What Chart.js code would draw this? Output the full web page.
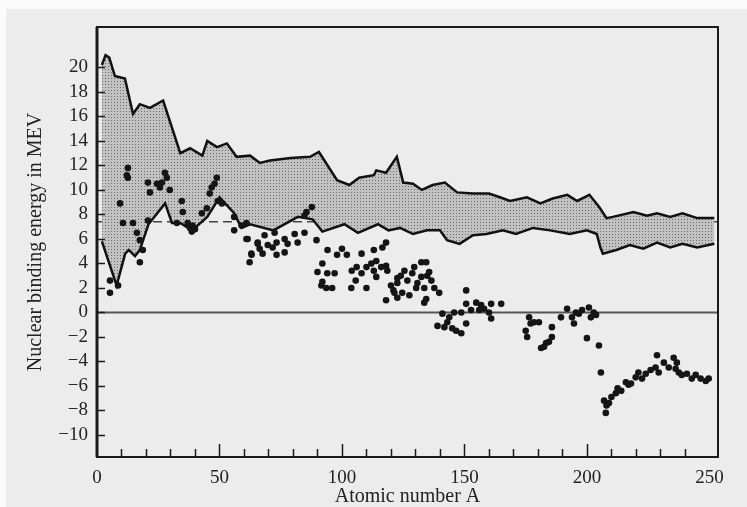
<!DOCTYPE html>
<html>
<head>
<meta charset="utf-8">
<script src="https://cdn.jsdelivr.net/npm/chart.js@4"></script>
<style>
  body { margin: 0; background: #ececec; }
  canvas { display: block; }
</style>
</head>
<body>
<canvas id="chart" width="747" height="507"></canvas>
<script>
// upper edge of the shaded band
var upperA = [2, 3.5, 5, 7.3, 11.4, 14.7, 17.5, 21.6, 27, 34, 38, 43, 45, 49, 53, 57, 62.5, 66.5, 70.6, 79, 87, 90.6, 98, 103, 107, 113, 114, 118, 122.4, 125, 129, 132.6, 137, 142, 147, 153.5, 160, 164.5, 168.6, 175.5, 181, 186, 192, 196, 201, 205, 208, 210.6, 219, 224.5, 228.6, 234, 239, 245, 252];
var upperE = [20.2, 21, 20.8, 19.3, 19.1, 16.2, 17, 16.7, 17.3, 13, 13.4, 12.8, 14, 13.5, 13.8, 12.7, 12.8, 12.2, 12.4, 12.6, 12.7, 13.1, 10.8, 10.4, 11, 11.2, 11.6, 11.4, 12.7, 10.6, 10.5, 10, 10.4, 10.6, 9.8, 9.7, 9.7, 9.4, 9.1, 9.4, 8.9, 9.3, 9.6, 9.1, 9.6, 8.6, 7.7, 7.8, 8.2, 7.9, 8.1, 7.8, 8.1, 7.7, 7.7];

// lower edge of the shaded band
var lowerA = [2, 5, 8, 11.5, 13, 15.5, 17.5, 19, 21, 27.8, 30.6, 34, 38.8, 45, 50, 56, 59, 62.5, 72, 82, 88, 92, 101, 106.5, 114.7, 119, 123.7, 129, 134.7, 140, 142.9, 148, 153.5, 159, 165.7, 171, 178, 185, 193, 200, 204, 205.5, 206.5, 212, 217.5, 223, 228.6, 234, 239, 245, 252];
var lowerE = [5.8, 4, 2.2, 4.8, 5.1, 4.6, 5.1, 6, 7.2, 8.9, 7.3, 7.3, 6.7, 7.8, 9.4, 8.1, 6.9, 7.2, 6.7, 7.8, 7.6, 6.6, 7.2, 6.5, 7.2, 6.7, 6.9, 6.4, 6.7, 6.7, 5.9, 5.6, 6.3, 6.4, 6.7, 6.4, 6.9, 6.7, 6.4, 6.7, 6.4, 5.3, 4.8, 5.1, 5.5, 5.2, 5.7, 5.3, 5.6, 5.3, 5.6];

// measured binding energies (dots)
var dotA = [12.6, 12.6, 12.2, 9.4, 10.6, 14.7, 16.3, 17.5, 18.7, 17.5, 5.3, 5.3, 8.6,
  20.8, 21.6, 24.5, 25.7, 27.7, 28.5, 29.7, 26.5, 20.8, 34.6, 35, 37, 38, 39, 40, 38.7, 32.6, 42.8, 44.8, 46, 46.8, 48.9, 48, 49.3, 51, 56, 59, 56, 61, 61, 65.6, 66.4, 63, 62.3,
  87.7, 85.5, 84.7, 61.5, 68.4, 72.5, 65.6, 69.7, 73.3, 71.7, 76.6, 77.8, 80.7, 81.9, 84.7, 63.1, 67.6, 73.3, 76.6, 89.6, 94.1, 98, 100, 102, 108, 113, 116.5, 118,
  92, 90, 94, 97, 92, 93.6, 96, 91.6, 104, 106, 105.6, 103.8, 110, 108, 110, 112, 114, 113, 116, 118, 118.5, 114, 122.6, 124, 120, 121, 118, 122.6,
  122.6, 125.5, 126.7, 128.7, 129.5, 130.8, 132.4, 134.4, 132.4, 134.8, 135.6, 136.5, 133.6, 124.6, 127.5, 130.3, 134.4, 133.6, 137.7, 139.7, 121.4,
  150.7, 150.7, 154.8, 156.8, 160.9, 165, 152.7, 156, 158, 160, 148.7, 145.8, 141, 143.8, 143, 139, 141.8, 160.9, 150.7, 145, 146.6, 148.7,
  176.4, 178.4, 180.4, 175, 175.6, 177, 185.7, 189.4, 191.9, 193.9, 194.7, 195.5, 196.7, 198, 200.8, 202.8, 201.6, 203.7, 185.7, 184.5, 181.3, 182.5, 183.3, 200, 204.9, 205.7,
  207, 207.7, 208, 209, 210, 211.8, 212.5, 214, 215.9, 217, 218, 219.9, 221, 222.5, 224, 226, 228, 228.6, 229.3, 231.4, 233.4, 235.4, 236.7, 236.2, 237.5, 238.7, 240.8, 242.8, 244.4, 246.4, 248.5, 249.7];
var dotE = [11.8, 11.0, 11.2, 8.9, 7.3, 7.3, 6.5, 5.9, 5.1, 4.1, 2.6, 1.6, 2.2,
  10.6, 9.8, 10.5, 10.2, 11.4, 11, 10, 10.6, 7.5, 9.1, 8.2, 7.3, 6.9, 7.1, 6.8, 6.6, 7.3, 8.1, 8.5, 9.7, 10.2, 11, 10.5, 9.1, 8.9, 7.8, 7.1, 6.7, 7.3, 6.0, 5.7, 5.2, 4.8, 4.1,
  8.6, 8.2, 7.9, 6, 6.3, 6.5, 5.6, 5.5, 5.7, 5.3, 6, 5.6, 6.4, 5.7, 6.5, 4.7, 4.8, 4.7, 4.9, 5.9, 5.1, 4.7, 5.2, 4.7, 4.8, 5.1, 5.3, 5.7,
  4, 3.3, 3.2, 3.2, 2.5, 2.0, 2.0, 2.2, 3.4, 3.7, 2.6, 2.0, 2.0, 3.2, 3.7, 4.0, 4.2, 3.4, 3.7, 3.8, 3.4, 2.9, 2.8, 3.0, 2.2, 1.8, 1.0, 1.2,
  2.4, 3.4, 2.6, 3.2, 3.7, 2.4, 4.1, 4.1, 2.9, 3.0, 3.3, 2.6, 2.0, 1.6, 1.4, 2.0, 1.1, 0.8, 2.0, 1.6, 1.6,
  1.8, 0.7, 0.8, 0.6, 0.7, 0.7, 0.2, 0.2, 0.3, 0.0, 0.0, 0.0, -0.1, -0.4, -0.8, -1.1, -1.2, -0.5, -0.9, -1.3, -1.5, -1.7,
  -0.4, -0.8, -0.8, -1.5, -2.0, -0.9, -1.2, -0.4, 0.3, -0.4, -0.9, 0, -0.1, 0.2, 0.4, 0, -0.4, -0.2, -2.0, -2.4, -2.9, -2.8, -2.5, -2.1, -2.7, -4.9,
  -7.2, -8.2, -7.6, -7.4, -6.9, -6.6, -6.2, -6.4, -5.7, -5.9, -5.8, -5.3, -4.9, -5.4, -5.0, -4.7, -4.5, -3.5, -4.9, -4.1, -4.5, -3.7, -4.1, -4.6, -4.9, -5.1, -5.0, -5.4, -5.1, -5.4, -5.6, -5.4];

var dashLevel = 7.4;
var xTicks = [10, 20, 30, 40, 50, 60, 70, 80, 90, 100, 110, 120, 130, 140, 150, 160, 170, 180, 190, 200, 210, 220, 230, 240];
var xLabels = [0, 50, 100, 150, 200, 250];
var yTicks = [-10, -8, -6, -4, -2, 0, 2, 4, 6, 8, 10, 12, 14, 16, 18, 20];
var xMax = 253.5;

function pairs(xs, ys) {
    return xs.map(function (v, i) { return { x: v, y: ys[i] }; });
}

// stippled band fill
var pat = document.createElement('canvas');
pat.width = 3; pat.height = 3;
var pc = pat.getContext('2d');
pc.fillStyle = '#c2c2c2';
pc.fillRect(0, 0, 3, 3);
pc.fillStyle = '#6a6a6a';
pc.fillRect(0, 0, 1, 1);
var ctx0 = document.getElementById('chart').getContext('2d');
var bandFill = ctx0.createPattern(pat, 'repeat');

var paper = {
    id: 'paper',
    beforeDraw: function (chart) {
        var c = chart.ctx;
        c.save();
        c.fillStyle = '#ececec';
        c.fillRect(0, 0, chart.width, chart.height);
        c.fillStyle = '#fbfbfb';
        c.fillRect(0, 0, chart.width, 9);
        c.fillRect(0, 0, 6, chart.height);
        c.restore();
    }
};

var insideTicks = {
    id: 'insideTicks',
    afterDatasetsDraw: function (chart) {
        var c = chart.ctx, a = chart.chartArea;
        var sx = chart.scales.x, sy = chart.scales.y;
        c.save();
        c.strokeStyle = '#1a1a1a';
        c.lineWidth = 1.5;
        c.beginPath();
        yTicks.forEach(function (v) {
            var py = Math.round(sy.getPixelForValue(v)) + 0.5;
            c.moveTo(a.left, py);
            c.lineTo(a.left + 8, py);
        });
        xTicks.forEach(function (v) {
            var px = Math.round(sx.getPixelForValue(v)) + 0.5;
            c.moveTo(px, a.bottom);
            c.lineTo(px, a.bottom - (v % 50 === 0 ? 13 : 8));
        });
        c.stroke();
        c.lineWidth = 2;
        c.strokeRect(a.left, a.top, a.right - a.left, a.bottom - a.top);
        c.lineWidth = 3;
        c.beginPath();
        c.moveTo(a.left, a.top);
        c.lineTo(a.left, a.bottom);
        c.stroke();
        c.restore();
    }
};

new Chart(ctx0, {
    type: 'scatter',
    data: {
        datasets: [
            {
                label: 'dots',
                data: pairs(dotA, dotE),
                pointRadius: 3.3,
                pointBackgroundColor: '#151515',
                pointBorderWidth: 0,
                order: 0
            },
            {
                label: 'upper',
                data: pairs(upperA, upperE),
                showLine: true,
                pointRadius: 0,
                borderColor: '#111',
                borderWidth: 2.5,
                fill: '+1',
                backgroundColor: bandFill,
                order: 2
            },
            {
                label: 'lower',
                data: pairs(lowerA, lowerE),
                showLine: true,
                pointRadius: 0,
                borderColor: '#111',
                borderWidth: 2.5,
                order: 1
            },
            {
                label: 'zero',
                data: [{ x: 0, y: 0 }, { x: xMax, y: 0 }],
                showLine: true,
                pointRadius: 0,
                borderColor: '#555',
                borderWidth: 2,
                order: 3
            },
            {
                label: 'level',
                data: [{ x: 0, y: dashLevel }, { x: xMax, y: dashLevel }],
                showLine: true,
                pointRadius: 0,
                borderColor: '#444',
                borderWidth: 1.5,
                borderDash: [9, 5],
                order: 4
            }
        ]
    },
    options: {
        responsive: false,
        animation: false,
        layout: { padding: { top: 27, right: 29, left: 0, bottom: 0 } },
        plugins: {
            legend: { display: false },
            tooltip: { enabled: false }
        },
        scales: {
            x: {
                type: 'linear',
                min: 0,
                max: xMax,
                grid: { display: false, drawTicks: false },
                border: { display: false },
                ticks: {
                    stepSize: 50,
                    includeBounds: false,
                    autoSkip: false,
                    maxRotation: 0,
                    padding: 10,
                    color: '#222',
                    font: { family: 'Liberation Serif', size: 19 },
                    callback: function (v) { return xLabels.indexOf(v) >= 0 ? String(v) : null; }
                },
                title: {
                    display: true,
                    text: 'Atomic number A',
                    color: '#222',
                    padding: { top: 0, bottom: 0 },
                    font: { family: 'Liberation Serif', size: 20, lineHeight: 1 }
                },
                afterFit: function (s) { s.height = 50; }
            },
            y: {
                min: -11.8,
                max: 23.3,
                grid: { display: false, drawTicks: false },
                border: { display: false },
                ticks: {
                    stepSize: 2,
                    includeBounds: false,
                    autoSkip: false,
                    padding: 9,
                    color: '#222',
                    font: { family: 'Liberation Serif', size: 19 },
                    callback: function (v) {
                        if (yTicks.indexOf(v) < 0) return null;
                        return v < 0 ? '\u2212' + Math.abs(v) : String(v);
                    }
                },
                title: {
                    display: true,
                    text: 'Nuclear binding energy in MEV',
                    color: '#222',
                    padding: { top: 26, bottom: 0 },
                    font: { family: 'Liberation Serif', size: 20, lineHeight: 1 }
                },
                afterFit: function (s) { s.width = 97; }
            }
        }
    },
    plugins: [paper, insideTicks]
});
</script>
</body>
</html>
